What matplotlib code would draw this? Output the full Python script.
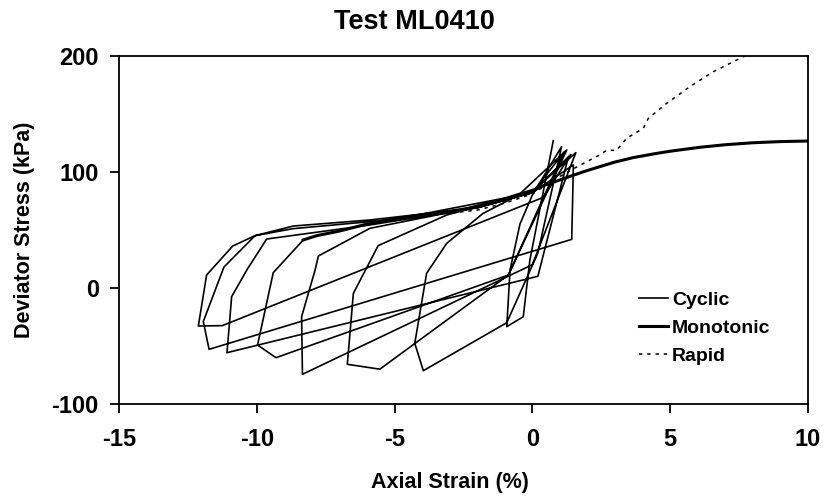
import numpy as np
import matplotlib
matplotlib.use("Agg")
from matplotlib import pyplot as plt

# cyclic loading path (axial strain %, deviator stress kPa), one row per cycle
cyclic_strain = [
    0.76, -0.09, -0.33, -0.93, -0.81, -0.45, 0.0, 1.06,
    0.2, -0.93, -3.96, -4.27, -3.84, -3.11, -1.8, -0.5, 1.25,
    -0.87, -5.54, -6.72, -6.50, -5.60, -3.11, -1.0, 0.0, 1.58,
    0.0, -8.35, -8.38, -7.89, -7.77, -5.9, -3.0, 0.0, 1.30,
    0.2, -11.09, -10.92, -10.37, -9.65, -5.9, -2.0, 0.0, 1.49,
    1.43, -11.74, -11.95, -11.2, -10.07, -8.7, -5.0, 0.0, 1.40,
    0.4, -11.26, -12.13, -11.83, -10.88, -10.07, -8.68, -5.9, -2.0, 0.0, 1.15,
    -0.87, -9.31, -9.98, -9.41, -8.32,
]
cyclic_stress = [
    126.8, 24, -24.8, -33.4, 15.4, 55, 80, 121.6,
    30, -30, -71.3, -47.7, 12.6, 38.4, 64, 80, 118.8,
    11.1, -70, -65.8, -4.7, 36.4, 62.8, 76, 83, 116.5,
    20, -74.4, -24.8, 15.4, 27.5, 51.3, 65, 83, 112,
    10, -55.8, -7.5, 15.4, 42.1, 54.2, 69, 82, 105.9,
    41.8, -52.9, -29, 18, 45, 51, 59, 82, 115,
    78, -32.5, -32.8, 11.1, 36.1, 45, 53.3, 58.5, 69, 82, 117,
    11.1, -60.1, -49.2, 13.1, 41.3,
]

mono_strain = [-8.32, -7.83, -7.0, -6.0, -5.0, -4.0, -3.0, -2.3, -1.5, -0.57, 0.0,
               0.5, 1.0, 1.85, 2.5, 3.0, 3.66, 4.5, 5.0, 6.08, 7.0, 8.0, 9.0, 10.0]
mono_stress = [41.3, 45, 49, 55, 59.5, 63, 66, 68.6, 73, 80, 84,
               89, 93, 100, 104.8, 108.4, 112.2, 115.8, 117.7, 121.1, 123.3, 125.0, 126.0, 126.5]

rapid_strain = [-5.0, -3.5, -2.0, -1.0, 0.0, 1.0, 1.6, 2.0, 2.4, 2.7, 3.06,
                3.42, 4.03, 4.21, 4.88, 5.72, 6.57, 7.66, 8.0]
rapid_stress = [58, 63, 67, 73, 81, 96, 104, 109, 114, 118.5, 118.5,
                128.8, 137.5, 146, 159, 173.3, 186.2, 199.1, 202]

plt.rcParams['font.family'] = ['Liberation Sans', 'DejaVu Sans']
plt.rcParams['font.weight'] = 'bold'
plt.rcParams['axes.unicode_minus'] = False

fig = plt.figure(figsize=(8.28, 5.04), dpi=100)
ax = fig.add_axes([0.1441, 0.1984, 0.8314, 0.6911])

ax.plot(cyclic_strain, cyclic_stress, color='black', lw=1.2, label='Cyclic')
ax.plot(mono_strain, mono_stress, color='black', lw=2.2, label='Monotonic')
ax.plot(rapid_strain, rapid_stress, color='black', lw=1.1, ls=(0, (2.2, 3.2)), label='Rapid')

ax.set_xlim(-15, 10)
ax.set_ylim(-100, 200)
ax.set_xticks([-15, -10, -5, 0, 5, 10])
ax.set_yticks([-100, 0, 100, 200])
ax.tick_params(direction='out', length=6.3, width=1.3, labelsize=17,
               top=False, right=False)
ax.tick_params(axis='x', pad=11)
ax.tick_params(axis='y', pad=8.5)
for s in ax.spines.values():
    s.set_linewidth(1.3)

ax.set_xlabel('Axial Strain (%)', fontsize=15.5, fontweight='bold')
ax.xaxis.set_label_coords(0.48, -0.224)
ax.xaxis.label.set_verticalalignment('center')
ax.set_ylabel('Deviator Stress (kPa)', fontsize=15.5, fontweight='bold')
ax.yaxis.set_label_coords(-0.138, 0.5)
ax.yaxis.label.set_verticalalignment('center')

fig.text(0.5, 1 - 29 / 504, 'Test ML0410', ha='center', va='baseline',
         fontsize=19.5, fontweight='bold')

ax.legend(loc='upper left', bbox_to_anchor=(0.755, 0.323), frameon=False,
          borderpad=0, borderaxespad=0, fontsize=14, handlelength=1.5,
          handletextpad=0.2, labelspacing=0.53)

fig.savefig('out.png', dpi=100)
